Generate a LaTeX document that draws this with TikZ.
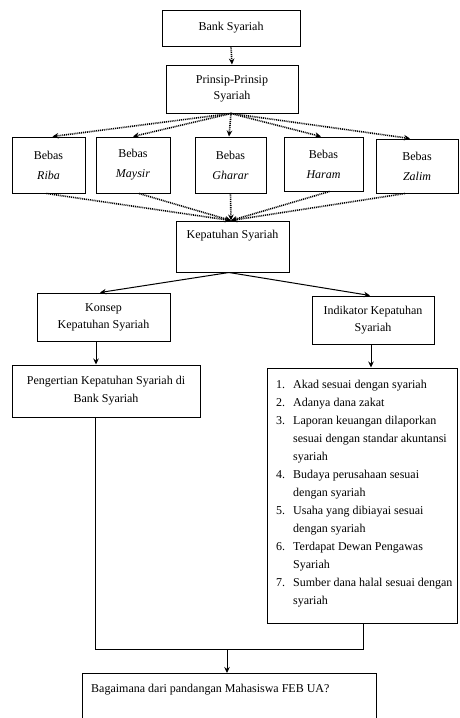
\documentclass[tikz,border=0pt]{standalone}
\usepackage{fontspec}
\setmainfont{Liberation Serif}
\usetikzlibrary{arrows.meta,calc}
\begin{document}
\begin{tikzpicture}[x=1pt,y=-1pt,
  box/.style={draw,line width=1pt,inner sep=0pt,align=center,font=\fontsize{12}{17}\selectfont},
  dotarr/.style={line width=1.6pt,dash pattern=on 1pt off 0.9pt,-{Stealth[length=6pt,width=5.5pt]}},
  solarr/.style={line width=1pt,-{Stealth[length=6pt,width=5.5pt]}},
  solline/.style={line width=1pt},
  txt/.style={inner sep=0pt,font=\fontsize{12}{18}\selectfont}
]
\fill[white] (0,0) rectangle (459,718);
\useasboundingbox (0,0) rectangle (459,718);
% boxes
\node[box,minimum width=138pt,minimum height=36pt] (bank) at (231,28) {Bank Syariah};
\node[box,minimum width=132pt,minimum height=48pt,font=\fontsize{12}{16}\selectfont] (prinsip) at (232,89) {Prinsip-Prinsip\\Syariah};
\node[box,minimum width=73pt,minimum height=56pt,font=\fontsize{12}{20}\selectfont] (riba) at (48.5,165) {Bebas\\\textit{Riba}};
\node[box,minimum width=74pt,minimum height=56pt,font=\fontsize{12}{20}\selectfont] (maysir) at (133,165) {Bebas\\\textit{Maysir}};
\node[box,minimum width=71pt,minimum height=56pt,font=\fontsize{12}{20}\selectfont] (gharar) at (230.5,165) {Bebas\\\textit{Gharar}};
\node[box,minimum width=79pt,minimum height=54pt,font=\fontsize{12}{20}\selectfont] (haram) at (323.5,164) {Bebas\\\textit{Haram}};
\node[box,minimum width=82pt,minimum height=54pt,font=\fontsize{12}{20}\selectfont] (zalim) at (417,166) {Bebas\\\textit{Zalim}};
\node[box,minimum width=113pt,minimum height=51pt,font=\fontsize{12}{18}\selectfont] (kep) at (232.5,246.5) {Kepatuhan Syariah\\\strut};
\node[box,minimum width=133pt,minimum height=48pt] (konsep) at (103.5,317) {Konsep\\Kepatuhan Syariah};
\node[box,minimum width=122pt,minimum height=48pt] (indik) at (373,320) {Indikator Kepatuhan\\Syariah};
\node[box,minimum width=188pt,minimum height=52pt,font=\fontsize{12}{18}\selectfont] (peng) at (106,391) {Pengertian Kepatuhan Syariah di\\Bank Syariah};
\node[box,minimum width=190pt,minimum height=255pt] (list) at (362,495.5) {};
\node[txt,anchor=north west] (listtxt) at (276,376) {%
\begin{tabular}{@{}p{17pt}@{}l@{}}
1. & Akad sesuai dengan syariah\\
2. & Adanya dana zakat\\
3. & Laporan keuangan dilaporkan\\
   & sesuai dengan standar akuntansi\\
   & syariah\\
4. & Budaya perusahaan sesuai\\
   & dengan syariah\\
5. & Usaha yang dibiayai sesuai\\
   & dengan syariah\\
6. & Terdapat Dewan Pengawas\\
   & Syariah\\
7. & Sumber dana halal sesuai dengan\\
   & syariah
\end{tabular}};
\node[box,anchor=north west,minimum width=294pt,minimum height=70pt] (last) at (82,673) {};
\node[txt,anchor=west] (lasttxt) at (91,690) {Bagaimana dari pandangan Mahasiswa FEB UA?};
% dotted connectors
\draw[dotarr] (bank.south) -- (prinsip.north);
\coordinate (ps) at ($(prinsip.south)+(-1,0)$);
\draw[dotarr] (ps) -- ([xshift=4pt]riba.north);
\draw[dotarr] (ps) -- (maysir.north);
\draw[dotarr] (ps) -- ([xshift=-1.5pt]gharar.north);
\draw[dotarr] (ps) -- ([xshift=-2.5pt]haram.north);
\draw[dotarr] (ps) -- ([xshift=-7pt]zalim.north);
\coordinate (kt) at ($(kep.north)+(-1.5,0)$);
\draw[dotarr] ([xshift=-2pt]riba.south) -- (kt);
\draw[dotarr] ([xshift=6pt]maysir.south) -- (kt);
\draw[dotarr] (gharar.south) -- (kt);
\draw[dotarr] ([xshift=6pt]haram.south) -- (kt);
\draw[dotarr] ([xshift=-12pt]zalim.south) -- (kt);
% solid connectors
\coordinate (kb) at ($(kep.south)+(-3.5,0)$);
\draw[solarr] (kb) -- ([xshift=-3.5pt]konsep.north);
\draw[solarr] (kb) -- ([xshift=-3pt]indik.north);
\draw[solarr] ([xshift=-7.5pt]konsep.south) -- ([xshift=-7.5pt]konsep.south |- peng.north);
\draw[solarr] ([xshift=-2pt]indik.south) -- ([xshift=-2pt]indik.south |- list.north);
\coordinate (jl) at (95,649);
\coordinate (jr) at (363,649);
\coordinate (jm) at (227,649);
\draw[solline] (peng.south -| jl) -- (jl) -- (jr) -- (list.south -| jr);
\draw[solarr] (jm) -- (last.north -| jm);
\end{tikzpicture}
\end{document}
